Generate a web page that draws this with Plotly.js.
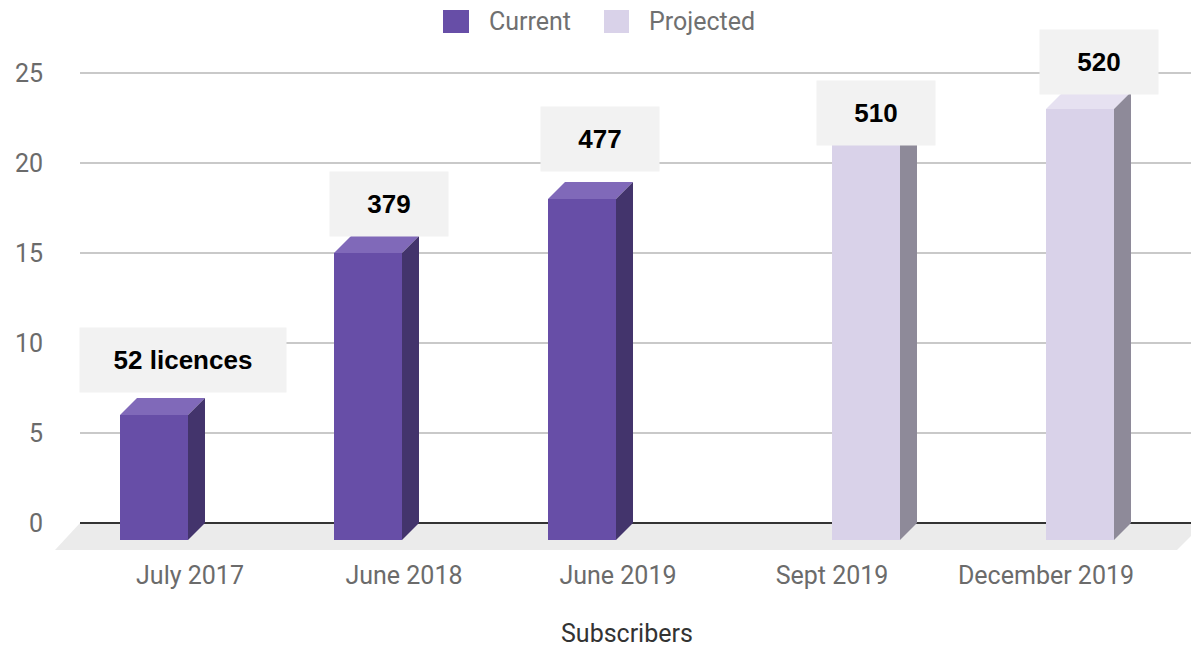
<!DOCTYPE html>
<html>
<head>
<meta charset="utf-8">
<script src="https://cdn.plot.ly/plotly-3.0.1.min.js"></script>
<style>html,body{margin:0;padding:0;background:#fff;}#chart{width:1191px;height:650px;}</style>
</head>
<body>
<div id="chart"></div>
<script>
// ---- data ----
const categories = ['July 2017', 'June 2018', 'June 2019', 'Sept 2019', 'December 2019'];
const seriesNames = ['Current', 'Projected'];
const currentValues = [6, 15, 18, null, null];
const projectedValues = [null, null, null, 22, 23];
const barLabels = ['52 licences', '379', '477', '510', '520'];
const yTickValues = [0, 5, 10, 15, 20, 25];
const xAxisTitle = 'Subscribers';

// ---- geometry / style ----
const W = 1191, H = 650, ML = 80, MR = 0, MT = 55, MB = 92;
const catPx = 214, firstCatPx = 190;   // pixel spacing of categories
const unitPx = 18, zeroPx = 523;       // pixel scale of y axis
const depthPx = 17;                    // 3D depth of bars
const dx = depthPx / catPx, dy = depthPx / unitPx;
const barW = 68 / catPx;
const offsets = [-70 / catPx, 0];
const colors = {
  front: ['#674EA7', '#D9D2E9'],
  top:   ['#8069B9', '#E6E1F1'],
  side:  ['#43346C', '#8E8A99']
};
const xRange = [(ML - firstCatPx) / catPx, (W - MR - firstCatPx) / catPx];
const yRange = [-(H - MB - zeroPx) / unitPx, (zeroPx - MT) / unitPx];
const plotW = W - ML - MR, plotH = H - MT - MB;
const px2px = x => (x - ML) / plotW;
const py2py = y => (H - MB - y) / plotH;

const series = [currentValues, projectedValues];
const traces = [];
const xs = categories.map((c, i) => i);

series.forEach((vals, s) => {
  traces.push({
    type: 'bar', x: xs, y: vals.map(v => v == null ? null : v + dy), base: -dy,
    width: barW, offset: offsets[s], name: seriesNames[s],
    marker: {color: colors.front[s], line: {width: 0}},
    showlegend: false, hoverinfo: 'skip'
  });
});
series.forEach((vals, s) => {
  const tx = [], ty = [], sx = [], sy = [];
  vals.forEach((v, i) => {
    if (v == null) return;
    const x0 = i + offsets[s], x1 = x0 + barW;
    tx.push(x0, x1, x1 + dx, x0 + dx, x0, null);
    ty.push(v, v, v + dy, v + dy, v, null);
    sx.push(x1, x1, x1 + dx, x1 + dx, x1, null);
    sy.push(-dy, v, v + dy, 0, -dy, null);
  });
  traces.push({type: 'scatter', mode: 'lines', x: tx, y: ty, fill: 'toself', fillcolor: colors.top[s],
    line: {width: 0, color: colors.top[s]}, showlegend: false, hoverinfo: 'skip'});
  traces.push({type: 'scatter', mode: 'lines', x: sx, y: sy, fill: 'toself', fillcolor: colors.side[s],
    line: {width: 0, color: colors.side[s]}, showlegend: false, hoverinfo: 'skip'});
});

// label boxes (placed manually in the original)
const labelNudge = [[29, 55], [21, 49], [18, 60], [10, 14], [19, 47]];
const boxH = 64, boxW = [206, 118, 118, 118, 118];
const annotations = [];
barLabels.forEach((t, i) => {
  const s = currentValues[i] != null ? 0 : 1;
  const v = series[s][i];
  const cx = i + offsets[s] + barW / 2;
  annotations.push({
    xref: 'x', yref: 'y', x: cx, y: v, xanchor: 'center', yanchor: 'middle',
    xshift: labelNudge[i][0], yshift: labelNudge[i][1],
    text: '<b>' + t + '</b>', showarrow: false,
    width: boxW[i], height: boxH, bgcolor: '#F2F2F2', borderpad: 0,
    align: 'center', valign: 'middle',
    font: {family: 'Arial, "Liberation Sans", sans-serif', size: 26, color: '#000'}
  });
});

// legend (drawn manually to match large square swatches)
const legendSw = [[443, 469], [604, 629]];
const legendTx = [487, 647];
const shapes = [];
seriesNames.forEach((n, s) => {
  shapes.push({type: 'rect', xref: 'paper', yref: 'paper',
    x0: px2px(legendSw[s][0]), x1: px2px(legendSw[s][1]), y0: py2py(33), y1: py2py(10),
    fillcolor: colors.front[s], line: {width: 0}});
  annotations.push({xref: 'paper', yref: 'paper', x: px2px(legendTx[s]), y: py2py(21), xanchor: 'left', yanchor: 'middle',
    text: n, showarrow: false, font: {family: 'Roboto, sans-serif', size: 25, color: '#707070'}});
});

// axis title (slightly left of the plot centre in the original)
annotations.push({xref: 'paper', yref: 'paper', x: px2px(627), y: py2py(633), xanchor: 'center', yanchor: 'middle',
  text: xAxisTitle, showarrow: false, font: {family: 'Roboto, sans-serif', size: 25, color: '#333'}});

// floor (x in paper units so it is not clipped at the plot's left edge)
const floorFront = -27 / unitPx;
shapes.push({type: 'path', xref: 'paper', yref: 'y', layer: 'below',
  path: `M ${px2px(55)},${floorFront} L ${px2px(1177)},${floorFront} L ${px2px(1204)},0 L ${px2px(80)},0 Z`,
  fillcolor: '#EBEBEB', line: {width: 0}});

const layout = {
  width: W, height: H, margin: {l: ML, r: MR, t: MT, b: MB},
  paper_bgcolor: '#fff', plot_bgcolor: 'rgba(0,0,0,0)',
  showlegend: false,
  xaxis: {range: xRange, tickvals: xs, ticktext: categories, showgrid: false, zeroline: false,
    showline: false, ticks: '', ticklabelstandoff: 0,
    tickfont: {family: 'Roboto, sans-serif', size: 25, color: '#6b6b6b'},
    fixedrange: true},
  yaxis: {range: yRange, tickvals: yTickValues, ticks: '', showline: false,
    gridcolor: '#C9C9C9', gridwidth: 1.5, zeroline: true, zerolinecolor: '#333', zerolinewidth: 2,
    ticklabelstandoff: 36,
    tickfont: {family: 'Roboto, sans-serif', size: 25, color: '#6b6b6b'}, fixedrange: true},
  shapes: shapes, annotations: annotations, barmode: 'overlay'
};

Plotly.newPlot('chart', traces, layout, {displayModeBar: false, staticPlot: true});
</script>
</body>
</html>
